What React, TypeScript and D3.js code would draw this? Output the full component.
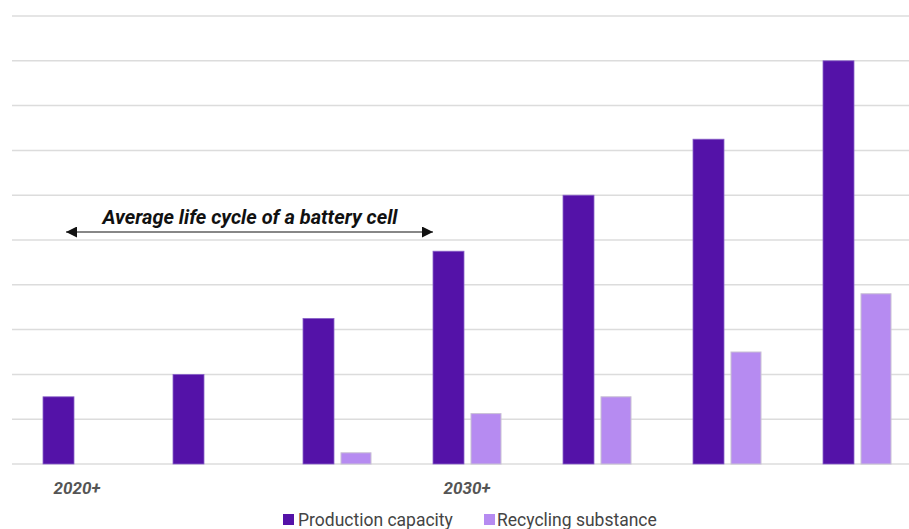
import React from "react";
import * as d3 from "d3";

const categories = ["2020+", "", "", "2030+", "", "", ""];
const production = [1.5, 2, 3.25, 4.75, 6, 7.25, 9];
const recycling = [0, 0, 0.25, 1.125, 1.5, 2.5, 3.8];
const seriesNames = ["Production capacity", "Recycling substance"];
const colors = ["#5412a8", "#b68bf1"];
const yTicks = d3.range(0, 11);

export default function App() {
  const W = 909, H = 529;
  const left = 12, right = 922, top = 16, bottom = 464;
  const x = d3.scaleBand<number>().domain(d3.range(categories.length)).range([left, right]).padding(0);
  const y = d3.scaleLinear().domain([0, 10]).range([bottom, top]);
  const barW = 31;
  const font = "Roboto, 'Noto Sans', sans-serif";
  return (
    <svg width={W} height={H} style={{ position: "absolute", left: 0, top: 0, background: "#fff" }}>
      {yTicks.map((t) => (
        <line key={t} x1={left} x2={W} y1={y(t)} y2={y(t)} stroke="#dcdcdc" strokeWidth={1.5} />
      ))}
      {categories.map((c, i) => {
        const cx = x(i)! + x.bandwidth() / 2;
        const x0 = cx - 3 - barW;
        const x1 = cx + 4;
        return (
          <g key={i}>
            {production[i] > 0 && (
              <rect x={x0} y={y(production[i])} width={barW} height={y(0) - y(production[i])}
                fill={colors[0]} stroke="#8a64c8" strokeWidth={0.8} />
            )}
            {recycling[i] > 0 && (
              <rect x={x1} y={y(recycling[i])} width={barW - 1} height={y(0) - y(recycling[i])}
                fill={colors[1]} stroke="#c8c0d4" strokeWidth={1} />
            )}
            {c && (
              <text x={cx} y={494} textAnchor="middle" fontFamily={font} fontWeight="bold"
                fontStyle="italic" fontSize={17} fill="#555">{c}</text>
            )}
          </g>
        );
      })}
      <defs>
        <marker id="ah" viewBox="0 0 10 10" refX="10" refY="5" markerWidth="11" markerHeight="11"
          markerUnits="userSpaceOnUse" orient="auto-start-reverse">
          <path d="M0,0 L10,5 L0,10 z" fill="#111" />
        </marker>
      </defs>
      <line x1={66} x2={433} y1={232} y2={232} stroke="#111" strokeWidth={1.2}
        markerStart="url(#ah)" markerEnd="url(#ah)" />
      <text x={250} y={224} textAnchor="middle" fontFamily={font} fontWeight="bold"
        fontStyle="italic" fontSize={20} fill="#111">Average life cycle of a battery cell</text>
      <g fontFamily={font} fontSize={17.5} fill="#444">
        <rect x={283} y={514} width={11} height={11} fill={colors[0]} />
        <text x={298} y={526}>{seriesNames[0]}</text>
        <rect x={484} y={514} width={11} height={11} fill={colors[1]} />
        <text x={497} y={526}>{seriesNames[1]}</text>
      </g>
    </svg>
  );
}
